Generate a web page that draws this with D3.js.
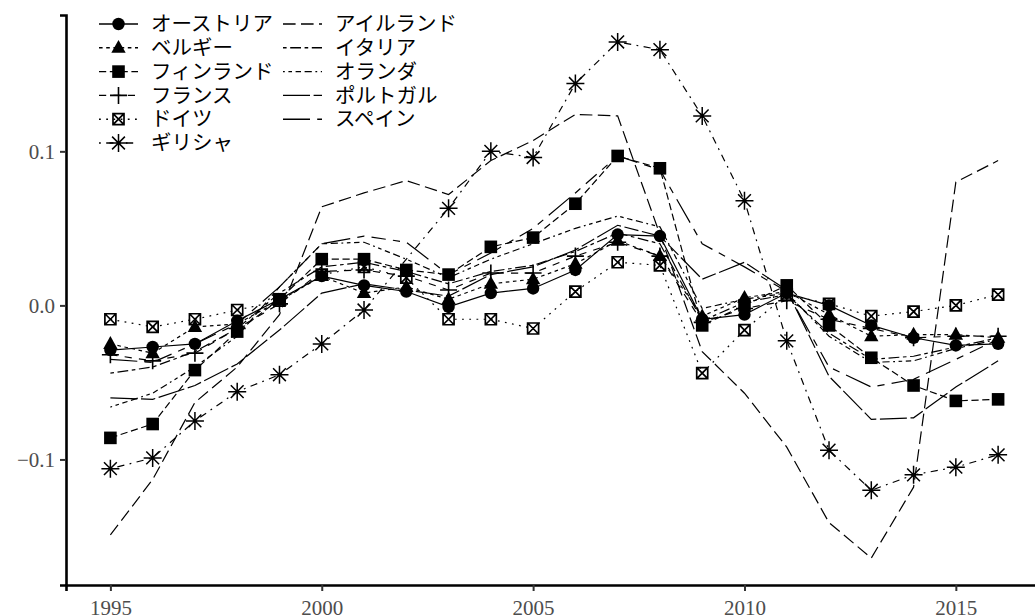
<!DOCTYPE html>
<html>
<head>
<meta charset="utf-8">
<script src="https://cdn.jsdelivr.net/npm/d3@7"></script>
<style>
  body { margin: 0; background: #fff; }
  svg { display: block; }
  .axis text { font-family: "Liberation Serif", serif; font-size: 21px; fill: #4d4d4d; }
  .axis .domain { stroke: #000; stroke-width: 2.6px; }
  .axis .tick line { stroke: #333; stroke-width: 2px; }
  .legend text { font-family: "Noto Sans CJK JP", sans-serif; font-size: 20.5px; fill: #000; }
</style>
</head>
<body>
<div id="chart"></div>
<script>
// 年
var years = [1995, 1996, 1997, 1998, 1999, 2000, 2001, 2002, 2003, 2004, 2005,
             2006, 2007, 2008, 2009, 2010, 2011, 2012, 2013, 2014, 2015, 2016];

var countries = ["オーストリア", "ベルギー", "フィンランド", "フランス", "ドイツ", "ギリシャ",
                 "アイルランド", "イタリア", "オランダ", "ポルトガル", "スペイン"];

var austria  = [-0.029,-0.027,-0.025,-0.010,0.004,0.019,0.013,0.009,-0.001,0.008,0.011,0.023,0.046,0.045,-0.009,-0.006,0.008,0.000,-0.013,-0.021,-0.026,-0.025];
var belgium  = [-0.025,-0.031,-0.014,-0.012,0.003,0.019,0.008,0.012,0.004,0.014,0.017,0.027,0.042,0.032,-0.007,0.005,0.009,-0.006,-0.020,-0.019,-0.019,-0.021];
var finland  = [-0.086,-0.077,-0.042,-0.017,0.004,0.030,0.030,0.023,0.020,0.038,0.044,0.066,0.097,0.089,-0.013,0.000,0.013,-0.013,-0.034,-0.052,-0.062,-0.061];
var france   = [-0.032,-0.036,-0.031,-0.015,0.001,0.022,0.023,0.019,0.010,0.021,0.021,0.032,0.041,0.032,-0.011,-0.002,0.003,-0.009,-0.015,-0.021,-0.020,-0.020];
var germany  = [-0.009,-0.014,-0.009,-0.003,0.003,0.020,0.025,0.018,-0.009,-0.009,-0.015,0.009,0.028,0.026,-0.044,-0.016,0.007,0.001,-0.007,-0.004,0.000,0.007];
var greece   = [-0.106,-0.099,-0.075,-0.056,-0.045,-0.025,-0.003,null,0.063,0.100,0.096,0.144,0.171,0.166,0.123,0.068,-0.023,-0.094,-0.120,-0.110,-0.105,-0.097];
var ireland  = [-0.149,-0.113,-0.063,-0.040,-0.006,0.064,0.073,0.081,0.072,0.094,0.107,0.124,0.123,0.046,-0.030,-0.057,-0.092,-0.141,-0.164,-0.118,0.080,0.094];
var italy    = [-0.044,-0.040,-0.030,-0.015,0.008,0.025,0.028,0.022,0.014,0.022,0.026,0.035,0.047,0.040,-0.010,0.002,0.007,-0.018,-0.035,-0.033,-0.027,-0.021];
var netherl  = [-0.066,-0.057,-0.040,-0.020,0.012,0.040,0.041,0.030,0.018,0.030,0.040,0.050,0.058,0.051,-0.002,0.004,0.008,-0.020,-0.037,-0.036,-0.028,-0.022];
var portugal = [-0.060,-0.061,-0.052,-0.038,-0.016,0.008,0.014,0.010,0.006,0.020,0.025,0.036,0.052,0.045,0.017,0.028,0.010,-0.046,-0.074,-0.073,-0.053,-0.036];
var spain    = [-0.035,-0.037,-0.025,-0.012,0.012,0.040,0.045,0.041,0.020,0.034,0.050,0.073,0.097,0.088,0.040,0.025,0.009,-0.040,-0.053,-0.048,-0.035,-0.022];

var yTicks = [-0.1, 0.0, 0.1];
var xTicks = [1995, 2000, 2005, 2010, 2015];

var allValues = [austria, belgium, finland, france, germany, greece,
                 ireland, italy, netherl, portugal, spain];

// ggplot linetypes (hex digits) and shapes
var dashUnits = ["", "22", "42", "44", "13", "1343", "73", "2262", "12223242", "F282", "F4448444"];
var shapes = ["circle", "triangle", "square", "plus", "boxx", "star", null, null, null, null, null];

var width = 1035, height = 616,
    unit = 1.8;

var svg = d3.select("#chart").append("svg")
    .attr("width", width)
    .attr("height", height);

var x = d3.scaleLinear().domain([1993.95, 2017.05]).range([66, 1042.5]);
var y = d3.scaleLinear().domain([-0.1815, 0.1885]).range([585, 15]);

function dasharray(code) {
  if (!code) return null;
  return code.split("").map(function (c) { return parseInt(c, 16) * unit; }).join(",");
}

function drawShape(g, kind) {
  if (kind == "circle") {
    g.append("circle").attr("r", 6.2).attr("fill", "#000");
  } else if (kind == "triangle") {
    g.append("path").attr("d", "M0,-7.8L7.2,5L-7.2,5Z").attr("fill", "#000");
  } else if (kind == "square") {
    g.append("rect").attr("x", -6.3).attr("y", -6.3).attr("width", 12.6).attr("height", 12.6).attr("fill", "#000");
  } else if (kind == "plus") {
    g.append("path").attr("d", "M-8.5,0H8.5M0,-8.5V8.5").attr("stroke", "#000").attr("stroke-width", 1.6);
  } else if (kind == "boxx") {
    g.append("path").attr("d", "M-5.5,-5.5H5.5V5.5H-5.5ZM-5.5,-5.5L5.5,5.5M5.5,-5.5L-5.5,5.5")
      .attr("stroke", "#000").attr("stroke-width", 1.7).attr("fill", "none");
  } else if (kind == "star") {
    g.append("path").attr("d", "M-9,0H9M0,-9V9M-6.4,-6.4L6.4,6.4M6.4,-6.4L-6.4,6.4")
      .attr("stroke", "#000").attr("stroke-width", 1.5);
  }
}

// axes
var yAxis = svg.append("g").attr("class", "axis")
    .attr("transform", "translate(66,0)")
    .call(d3.axisLeft(y).tickValues(yTicks).tickFormat(d3.format(".1f")).tickSizeOuter(0).tickSize(6).tickPadding(5));
var xAxis = svg.append("g").attr("class", "axis")
    .attr("transform", "translate(0,585)")
    .call(d3.axisBottom(x).tickValues(xTicks).tickFormat(d3.format("d")).tickSizeOuter(0).tickSize(6).tickPadding(5));
xAxis.selectAll("text").attr("dy", "0.9em");

var line = d3.line()
    .x(function (d) { return x(d.year); })
    .y(function (d) { return y(d.value); });

allValues.forEach(function (vals, i) {
  var pts = years.map(function (yr, j) { return { year: yr, value: vals[j] }; })
                 .filter(function (d) { return d.value !== null; });
  svg.append("path")
    .datum(pts)
    .attr("d", line)
    .attr("fill", "none")
    .attr("stroke", "#000")
    .attr("stroke-width", 1.2)
    .attr("stroke-dasharray", dasharray(dashUnits[i]));
  if (shapes[i]) {
    svg.selectAll(null)
      .data(pts)
      .enter().append("g")
      .attr("transform", function (d) { return "translate(" + x(d.year) + "," + y(d.value) + ")"; })
      .each(function () { drawShape(d3.select(this), shapes[i]); });
  }
});

// legend
var legend = svg.append("g").attr("class", "legend");
countries.forEach(function (name, i) {
  var col = i < 6 ? 0 : 1,
      row = i < 6 ? i : i - 6,
      lx = col == 0 ? 99 : 283,
      ly = 24 + row * 23.8;
  var key = legend.append("g").attr("transform", "translate(" + lx + "," + ly + ")");
  key.append("line")
    .attr("x1", 0).attr("x2", 39).attr("y1", 0).attr("y2", 0)
    .attr("stroke", "#000").attr("stroke-width", 1.4)
    .attr("stroke-dasharray", dasharray(dashUnits[i]));
  if (shapes[i]) {
    var m = key.append("g").attr("transform", "translate(19.5,0)");
    drawShape(m, shapes[i]);
  }
  key.append("text")
    .attr("x", 52).attr("y", 0).attr("dy", "0.35em")
    .text(name);
});
</script>
</body>
</html>
